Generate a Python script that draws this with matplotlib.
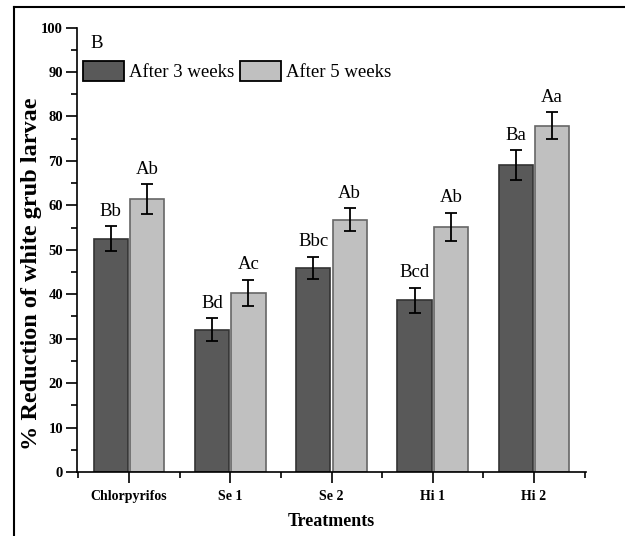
import matplotlib
matplotlib.use("Agg")
import matplotlib.pyplot as plt
from matplotlib.lines import Line2D
from matplotlib.ticker import FixedLocator
import numpy as np

categories = ["Chlorpyrifos", "Se 1", "Se 2", "Hi 1", "Hi 2"]
week3 = [52.5, 32.0, 45.9, 38.6, 69.1]
week3_err = [2.8, 2.6, 2.5, 2.9, 3.3]
week5 = [61.4, 40.3, 56.8, 55.1, 77.9]
week5_err = [3.3, 3.0, 2.5, 3.2, 3.0]
letters3 = ["Bb", "Bd", "Bbc", "Bcd", "Ba"]
letters5 = ["Ab", "Ac", "Ab", "Ab", "Aa"]
series_names = ["After 3 weeks", "After 5 weeks"]

plt.rcParams['font.family'] = ['Liberation Serif', 'DejaVu Serif']

fig = plt.figure(figsize=(6.25, 5.36), dpi=100)
ax = fig.add_axes([77/625, 1-472/536, 509/625, 444.4/536])

x = np.arange(1, len(categories) + 1)
w = 0.34
off = 0.18
dark = '#595959'
light = '#c0c0c0'

ax.bar(x - off, week3, w, color=dark, edgecolor='#333333', linewidth=1.2,
       label=series_names[0], zorder=2)
ax.bar(x + off, week5, w, color=light, edgecolor='#666666', linewidth=1.2,
       label=series_names[1], zorder=2)
ax.errorbar(x - off, week3, yerr=week3_err, fmt='none', ecolor='black',
            elinewidth=1.3, capsize=4, capthick=1.3, zorder=3)
ax.errorbar(x + off, week5, yerr=week5_err, fmt='none', ecolor='black',
            elinewidth=1.3, capsize=4, capthick=1.3, zorder=3)

for xi, v, e, t in zip(x - off, week3, week3_err, letters3):
    ax.text(xi, v + e + 2.4, t, ha='center', va='baseline', fontsize=13.5)
for xi, v, e, t in zip(x + off, week5, week5_err, letters5):
    ax.text(xi, v + e + 2.4, t, ha='center', va='baseline', fontsize=13.5)

ax.set_xlim(0.486, 5.514)
ax.set_ylim(0, 100)
ax.set_xticks(x)
ax.set_xticklabels(categories, fontweight='bold', fontsize=10)
ax.xaxis.set_minor_locator(FixedLocator([0.5, 1.5, 2.5, 3.5, 4.5, 5.5]))
ax.set_yticks(np.arange(0, 101, 10))
ax.yaxis.set_minor_locator(FixedLocator(np.arange(5, 100, 10)))
for lab in ax.get_yticklabels():
    lab.set_fontweight('bold')
    lab.set_fontsize(10.5)
ax.tick_params(axis='both', which='major', direction='out', length=8, width=1.2, pad=2)
ax.tick_params(axis='both', which='minor', direction='out', length=4, width=1.2)
ax.tick_params(axis='x', which='major', pad=5)

for s in ['top', 'right']:
    ax.spines[s].set_visible(False)
for s in ['left', 'bottom']:
    ax.spines[s].set_linewidth(1.2)

ax.set_ylabel("% Reduction of white grub larvae", fontweight='bold', fontsize=17.5)
ax.yaxis.set_label_coords(-0.068, 0.446)
ax.set_xlabel("Treatments", fontweight='bold', fontsize=13, labelpad=7)

ax.text(0.62, 96.5, "B", fontsize=13.5, ha='left', va='center')

leg = ax.legend(loc='upper left', bbox_to_anchor=(0.012, 0.925), ncol=2, frameon=False,
                fontsize=13.5, handlelength=2.2, handleheight=1.25, handletextpad=0.25,
                columnspacing=0.3, borderpad=0, borderaxespad=0)
for p in leg.get_patches():
    p.set_edgecolor('black')
    p.set_linewidth(1.3)

# outer frame of the figure
fig.add_artist(Line2D([14/625, 14/625], [0, 1-7/536], color='black', lw=1.5,
                      transform=fig.transFigure))
fig.add_artist(Line2D([14/625, 1], [1-7/536, 1-7/536], color='black', lw=1.5,
                      transform=fig.transFigure))

fig.savefig("out.png", dpi=100)
